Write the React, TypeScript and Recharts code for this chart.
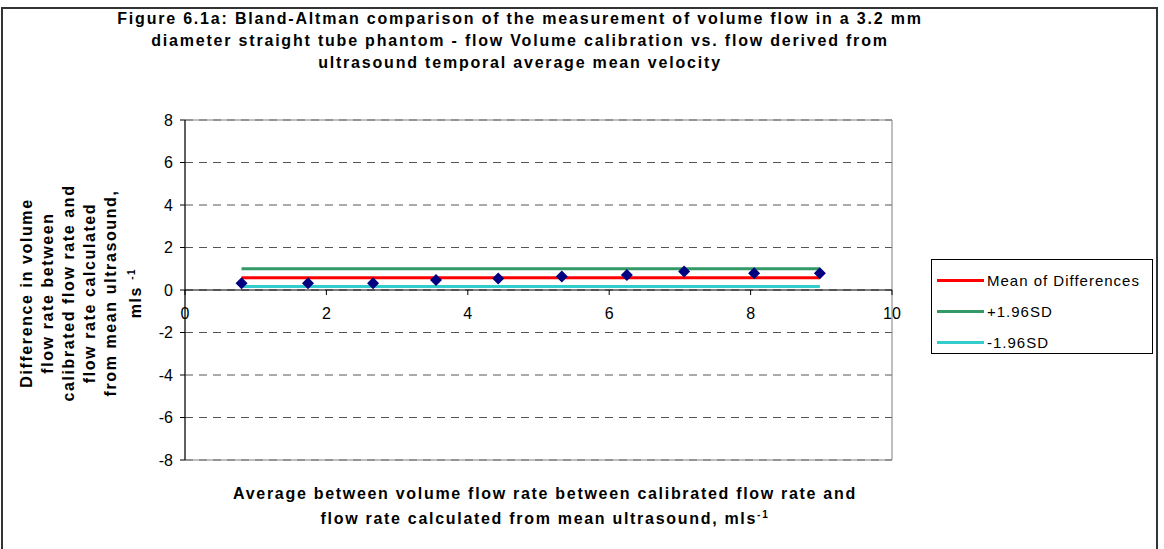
import React from 'react';
import {
  ScatterChart,
  Scatter,
  XAxis,
  YAxis,
  CartesianGrid,
  ReferenceLine,
  ReferenceArea,
} from 'recharts';

// ── Data ────────────────────────────────────────────────────
const avgFlow = [0.8, 1.74, 2.66, 3.55, 4.43, 5.33, 6.25, 7.06, 8.05, 8.98];
const diffFlow = [0.32, 0.32, 0.32, 0.47, 0.54, 0.63, 0.71, 0.87, 0.79, 0.79];
const meanDiff = 0.58;
const upperLimit = 1.0;
const lowerLimit = 0.16;

const xTicks = [0, 2, 4, 6, 8, 10];
const yTicks = [-8, -6, -4, -2, 0, 2, 4, 6, 8];

const titleLines = [
  'Figure 6.1a: Bland-Altman comparison of the measurement of volume flow in a 3.2 mm',
  'diameter straight tube phantom - flow Volume calibration vs. flow derived from',
  'ultrasound temporal average mean velocity',
];
const yLabelLines = [
  'Difference in volume',
  'flow rate between',
  'calibrated flow rate and',
  'flow rate calculated',
  'from mean ultrasound,',
];
const xLabelLines = [
  'Average between volume flow rate between calibrated flow rate and',
  'flow rate calculated from mean ultrasound, mls',
];

const legendItems = [
  { name: 'Mean of Differences', color: '#ff0000' },
  { name: '+1.96SD', color: '#339966' },
  { name: '-1.96SD', color: '#33cccc' },
];

const points = avgFlow.map((x, i) => ({ x, y: diffFlow[i] }));
const xStart = avgFlow[0];
const xEnd = avgFlow[avgFlow.length - 1];
const meanLine = [{ x: xStart, y: meanDiff }, { x: xEnd, y: meanDiff }];
const upperLine = [{ x: xStart, y: upperLimit }, { x: xEnd, y: upperLimit }];
const lowerLine = [{ x: xStart, y: lowerLimit }, { x: xEnd, y: lowerLimit }];

// ── Layout ──────────────────────────────────────────────────
const FONT = '"Liberation Sans", Arial, sans-serif';
const W = 1164;
const H = 549;
const PLOT_TOP = 120;
const PLOT_LEFT = 185;
const PLOT_RIGHT = 892;
const PLOT_BOTTOM = 460;
const PLOT_H = PLOT_BOTTOM - PLOT_TOP;
const Y_AXIS_W = 60;
const X_AXIS_H = 30;

const Diamond = (props: any) => {
  const { cx, cy } = props;
  const r = 6;
  return (
    <path
      d={`M${cx},${cy - r}L${cx + r},${cy}L${cx},${cy + r}L${cx - r},${cy}Z`}
      fill="#000080"
    />
  );
};

const NoDot = () => <g />;

// x axis crosses at y = 0 (middle of the plot), so ticks are lifted up
const XTick = (props: any) => {
  const { x, y, payload } = props;
  const axisY = y - 8 - PLOT_H / 2;
  return (
    <g>
      <line x1={x} x2={x} y1={axisY} y2={axisY + 5} stroke="#000" />
      <text
        x={x}
        y={axisY + 29}
        textAnchor="middle"
        fontSize={16}
        fontFamily={FONT}
        fill="#000"
      >
        {payload.value}
      </text>
    </g>
  );
};

export default function App() {
  return (
    <div style={{ position: 'relative', width: W, height: H, background: '#fff', overflow: 'hidden', fontFamily: FONT }}>
      <style>{'body{margin:0}'}</style>
      {/* outer chart border */}
      <div
        style={{
          position: 'absolute',
          left: 1,
          top: 7,
          width: 1157,
          height: 560,
          border: '2px solid #333',
          boxSizing: 'border-box',
        }}
      />

      {/* title */}
      <div
        style={{
          position: 'absolute',
          left: 0,
          top: 8,
          width: 1040,
          textAlign: 'center',
          fontSize: 16,
          fontWeight: 'bold',
          letterSpacing: 1.8,
          lineHeight: '22px',
          color: '#000',
        }}
      >
        {titleLines.map((t) => (
          <div key={t}>{t}</div>
        ))}
      </div>

      <ScatterChart
        width={W}
        height={H}
        margin={{
          top: PLOT_TOP,
          right: W - PLOT_RIGHT,
          bottom: H - PLOT_BOTTOM - X_AXIS_H,
          left: PLOT_LEFT - Y_AXIS_W,
        }}
        style={{ position: 'absolute', left: 0, top: 0 }}
      >
        <ReferenceArea x1={0} x2={10} y1={-8} y2={8} fill="none" stroke="#808080" strokeWidth={1} />
        <CartesianGrid vertical={false} stroke="#555" strokeDasharray="8 6" />
        <XAxis
          type="number"
          dataKey="x"
          domain={[0, 10]}
          ticks={xTicks}
          axisLine={false}
          tickLine={false}
          tick={<XTick />}
          height={X_AXIS_H}
          interval={0}
        />
        <YAxis
          type="number"
          dataKey="y"
          domain={[-8, 8]}
          ticks={yTicks}
          width={Y_AXIS_W}
          interval={0}
          axisLine={{ stroke: '#000' }}
          tickLine={{ stroke: '#000' }}
          tickSize={5}
          tickMargin={7}
          tick={{ fill: '#000', fontSize: 16, fontFamily: FONT }}
        />
        <ReferenceLine y={0} stroke="#000" strokeWidth={1} />
        <Scatter
          data={lowerLine}
          line={{ stroke: '#33cccc', strokeWidth: 3 }}
          shape={<NoDot />}
          isAnimationActive={false}
        />
        <Scatter
          data={upperLine}
          line={{ stroke: '#339966', strokeWidth: 3 }}
          shape={<NoDot />}
          isAnimationActive={false}
        />
        <Scatter
          data={meanLine}
          line={{ stroke: '#ff0000', strokeWidth: 3 }}
          shape={<NoDot />}
          isAnimationActive={false}
        />
        <Scatter data={points} shape={<Diamond />} isAnimationActive={false} />
      </ScatterChart>

      {/* y axis title */}
      <div
        style={{
          position: 'absolute',
          left: 81,
          top: 293,
          width: 0,
          height: 0,
        }}
      >
        <div
          style={{
            position: 'absolute',
            transform: 'translate(-50%, -50%) rotate(-90deg)',
            whiteSpace: 'nowrap',
            textAlign: 'center',
            fontSize: 16,
            fontWeight: 'bold',
            letterSpacing: 1.6,
            lineHeight: '21px',
          }}
        >
          {yLabelLines.map((t) => (
            <div key={t}>{t}</div>
          ))}
          <div>
            mls <sup style={{ fontSize: 10 }}>-1</sup>
          </div>
        </div>
      </div>

      {/* x axis title */}
      <div
        style={{
          position: 'absolute',
          left: 0,
          top: 481,
          width: 1090,
          textAlign: 'center',
          fontSize: 16,
          fontWeight: 'bold',
          letterSpacing: 1.7,
          lineHeight: '25px',
        }}
      >
        <div>{xLabelLines[0]}</div>
        <div>
          {xLabelLines[1]}
          <sup style={{ fontSize: 10, lineHeight: 0 }}>-1</sup>
        </div>
      </div>

      {/* legend */}
      <div
        style={{
          position: 'absolute',
          left: 931,
          top: 259,
          width: 222,
          height: 95,
          border: '1px solid #000',
          boxSizing: 'border-box',
          paddingTop: 5,
          fontSize: 15,
          letterSpacing: 1,
        }}
      >
        {legendItems.map((it) => (
          <div key={it.name} style={{ display: 'flex', alignItems: 'center', height: 31 }}>
            <div style={{ marginLeft: 5, width: 47, height: 3, background: it.color }} />
            <span style={{ marginLeft: 3 }}>{it.name}</span>
          </div>
        ))}
      </div>
    </div>
  );
}
